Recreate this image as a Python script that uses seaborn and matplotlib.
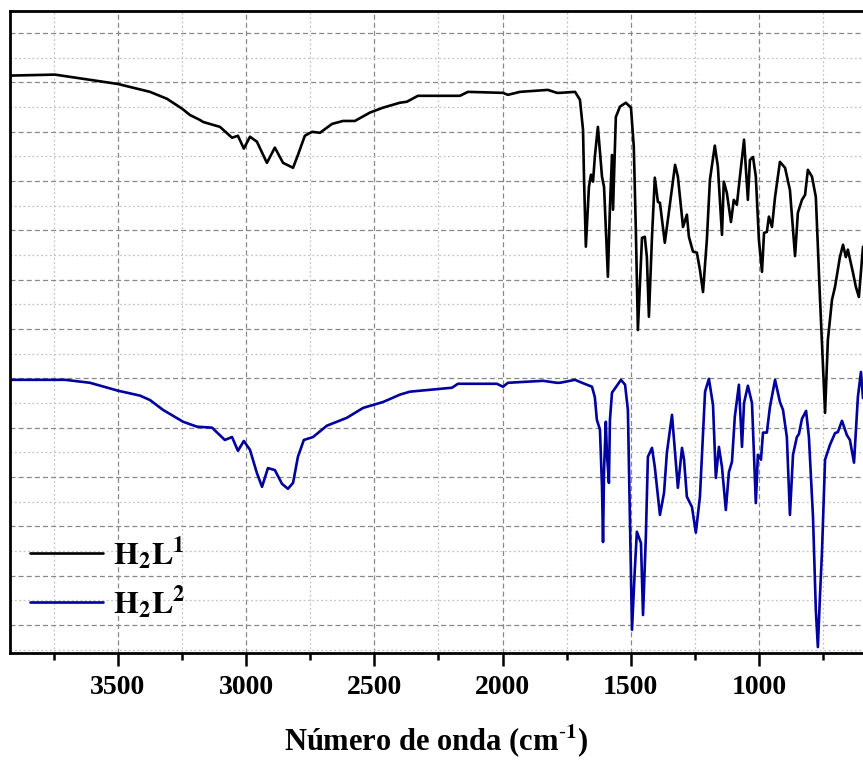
import numpy as np
import pandas as pd
import matplotlib
matplotlib.use("Agg")
import matplotlib.pyplot as plt
from matplotlib.ticker import MultipleLocator
import seaborn as sns

# IR spectra, wavenumber (cm-1) vs transmittance (arbitrary units, offset)
wn_h2l1 = [3921, 3746, 3500, 3375, 3309, 3250, 3219, 3180, 3168, 3102, 3055, 3032, 3009, 2985,
           2958, 2919, 2888, 2856, 2817, 2798, 2771, 2743, 2712, 2665, 2622, 2576, 2517, 2466,
           2400, 2373, 2330, 2166, 2135, 1998, 1979, 1932, 1823, 1788, 1776, 1717, 1698, 1686,
           1682, 1675, 1663, 1655, 1647, 1640, 1628, 1612, 1604, 1589, 1581, 1573, 1569, 1558,
           1542, 1519, 1499, 1488, 1480, 1472, 1456, 1445, 1437, 1429, 1417, 1406, 1394, 1386,
           1367, 1355, 1327, 1316, 1296, 1281, 1273, 1257, 1242, 1230, 1218, 1203, 1191, 1172,
           1160, 1144, 1137, 1125, 1109, 1098, 1086, 1074, 1058, 1043, 1035, 1023, 1012, 1000,
           988, 980, 969, 961, 949, 937, 918, 898, 879, 859, 848, 832, 820, 809, 793, 778, 762,
           742, 731, 715, 703, 684, 672, 661, 653, 633, 622, 610, 594]
t_h2l1 = [111.4, 111.6, 109.7, 108.1, 106.7, 104.7, 103.4, 102.4, 102.0, 101.0, 98.8, 99.2, 96.6, 99.0,
          98.0, 93.7, 96.8, 93.7, 92.7, 95.3, 99.2, 100.0, 99.8, 101.6, 102.2, 102.2, 103.9, 104.9,
          105.9, 106.1, 107.3, 107.3, 108.1, 107.9, 107.5, 108.1, 108.5, 107.9, 107.9, 108.1, 106.5, 100.4,
          90.3, 76.7, 88.8, 91.3, 89.9, 94.9, 101.0, 90.9, 88.8, 70.6, 84.8, 95.3, 84.2, 103.0,
          105.1, 105.9, 104.9, 97.0, 80.1, 59.8, 78.5, 78.7, 74.6, 62.5, 78.7, 90.7, 85.8, 85.6,
          77.5, 82.2, 93.3, 90.9, 80.7, 83.2, 78.7, 75.7, 75.5, 72.0, 67.5, 78.1, 90.3, 97.2,
          92.9, 79.1, 89.9, 87.6, 81.7, 86.2, 85.2, 90.9, 98.4, 86.2, 94.3, 94.9, 90.9, 78.1,
          71.6, 79.5, 79.7, 82.8, 80.7, 86.8, 93.9, 92.7, 88.2, 74.8, 83.6, 86.2, 87.2, 92.3, 90.9, 86.8, 66.5,
          43.0, 57.8, 65.9, 68.6, 74.6, 77.1, 74.6, 76.1, 71.4, 68.6, 66.5, 76.7]

wn_h2l2 = [3921, 3706, 3609, 3500, 3414, 3375, 3324, 3246, 3192, 3133, 3083, 3055, 3032, 3009,
           2985, 2958, 2938, 2915, 2888, 2860, 2837, 2817, 2798, 2775, 2739, 2685, 2607, 2544,
           2466, 2400, 2361, 2197, 2174, 2022, 1998, 1979, 1842, 1788, 1776, 1717, 1690, 1651,
           1640, 1632, 1620, 1612, 1608, 1604, 1597, 1593, 1585, 1581, 1573, 1554, 1538, 1522,
           1511, 1503, 1495, 1484, 1476, 1460, 1452, 1441, 1433, 1417, 1406, 1386, 1370, 1359,
           1339, 1327, 1316, 1300, 1292, 1281, 1261, 1246, 1230, 1210, 1195, 1179, 1168, 1156,
           1144, 1129, 1117, 1105, 1094, 1078, 1066, 1058, 1043, 1027, 1012, 1004, 992, 984,
           969, 957, 937, 918, 906, 891, 879, 867, 852, 844, 832, 816, 805, 789, 778, 770, 762,
           754, 742, 723, 703, 692, 676, 657, 645, 629, 614, 602, 594]
t_h2l2 = [49.7, 49.7, 49.1, 47.5, 46.5, 45.6, 43.6, 41.2, 40.2, 40.0, 37.5, 38.1, 35.3, 37.3,
          35.5, 30.8, 28.0, 31.8, 31.4, 28.6, 27.6, 28.8, 34.1, 37.5, 38.1, 40.4, 42.0, 44.0,
          45.2, 46.7, 47.3, 48.1, 48.9, 48.9, 48.3, 49.1, 49.5, 49.1, 49.1, 49.7, 49.1, 48.3,
          46.2, 41.6, 39.6, 28.0, 16.8, 31.4, 41.2, 34.9, 28.8, 41.6, 47.1, 48.5, 49.7, 48.7,
          43.6, 21.3, -1.0, 11.2, 18.9, 16.6, 2.0, 17.8, 34.1, 35.9, 32.0, 22.3, 26.8, 34.9,
          42.6, 34.9, 27.8, 35.9, 33.5, 26.0, 23.9, 18.7, 26.0, 47.3, 49.9, 44.6, 29.8, 36.1,
          32.0, 23.3, 31.0, 33.1, 42.2, 48.7, 36.1, 45.0, 48.5, 45.0, 24.7, 34.5, 33.5, 39.0,
          39.0, 44.2, 49.7, 45.2, 43.6, 38.1, 22.3, 34.5, 38.1, 38.7, 41.8, 43.4, 38.1, 21.9, 3.0, -4.5, 5.7,
          14.8, 33.5, 36.5, 38.9, 39.1, 41.4, 38.5, 37.5, 32.9, 46.2, 51.3, 46.0]

labels = [r"$H_2L^1$", r"$H_2L^2$"]
colors = ["#000000", "#0000A0"]

df = pd.concat([
    pd.DataFrame({"wn": wn_h2l1, "t": t_h2l1, "sample": labels[0]}),
    pd.DataFrame({"wn": wn_h2l2, "t": t_h2l2, "sample": labels[1]}),
])

sns.set_style("white")
plt.rcParams["font.family"] = ["Liberation Serif", "DejaVu Serif"]
plt.rcParams["mathtext.fontset"] = "stix"
plt.rcParams["mathtext.default"] = "bf"
plt.rcParams["text.color"] = "black"
plt.rcParams["xtick.color"] = "black"
plt.rcParams["axes.labelcolor"] = "black"

fig = plt.figure(figsize=(8.63, 7.6), dpi=100)
ax = fig.add_axes([10 / 863, 107 / 760, 853 / 863, 642 / 760])

sns.lineplot(data=df, x="wn", y="t", hue="sample", palette=colors, sort=False,
             linewidth=1.9, ax=ax, legend=False)

ax.set_xlim(3921, 594)
ax.set_ylim(-5.7, 124.5)

ax.xaxis.set_major_locator(MultipleLocator(500))
ax.xaxis.set_minor_locator(MultipleLocator(250))
ax.yaxis.set_major_locator(MultipleLocator(10))
ax.yaxis.set_minor_locator(MultipleLocator(5))

ax.grid(which="major", color="#888888", linestyle=(0, (4, 2.5)), linewidth=0.9)
ax.grid(which="minor", color="#c4c4c4", linestyle=(0, (1.5, 2)), linewidth=0.9)
ax.set_axisbelow(True)

ax.tick_params(axis="x", which="major", direction="out", length=9, width=1.8,
               labelsize=20, pad=7, bottom=True, colors="black")
ax.tick_params(axis="x", which="minor", direction="out", length=5, width=1.8, bottom=True)
ax.tick_params(axis="y", which="both", left=False, labelleft=False)
for lab in ax.get_xticklabels():
    lab.set_fontweight("bold")

for side in ["left", "bottom", "top"]:
    ax.spines[side].set_linewidth(2)
    ax.spines[side].set_color("black")
ax.spines["right"].set_visible(False)

ax.set_xlabel(r"Número de onda (cm$^{\text{-}1}$)", fontsize=22, fontweight="bold", labelpad=16)
ax.set_ylabel("")

handles = [plt.Line2D([], [], color=c, linewidth=1.9) for c in colors]
ax.legend(handles, labels, loc="lower left", bbox_to_anchor=(0.023, 0.05), frameon=False,
          borderaxespad=0, borderpad=0, fontsize=23, handlelength=2.3,
          handletextpad=0.3, labelspacing=0.35)

fig.savefig("out.png", dpi=100)
